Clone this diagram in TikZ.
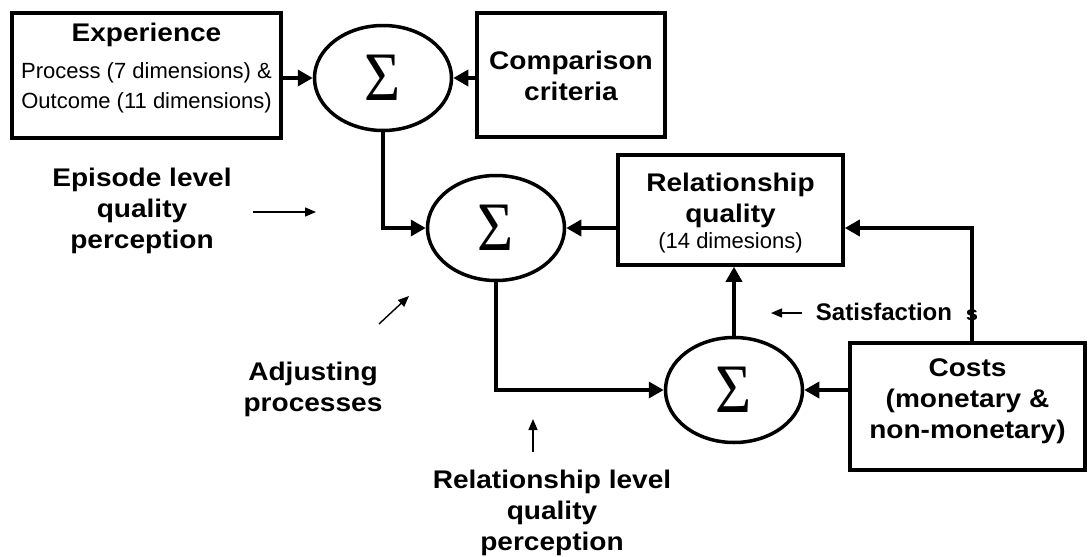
\documentclass[tikz,border=0pt]{standalone}
\usepackage{fontspec}
\setmainfont{Liberation Sans}
\newfontfamily\lblfont{Liberation Sans}[FakeStretch=1.1]
\newfontfamily\sigfont{Liberation Serif}
\usetikzlibrary{arrows.meta,shapes.geometric}
\tikzset{
  box/.style={draw, line width=3.5pt, rectangle, inner sep=0pt},
  sumnode/.style={draw, ellipse, line width=3.5pt, minimum width=137pt, minimum height=105pt, inner sep=0pt,
    font=\sigfont\fontsize{62}{62}\selectfont},
  flow/.style={line width=3.5pt, -{Triangle[length=15pt,width=16pt]}},
  thinarrow/.style={line width=1.4pt, -{Triangle[length=11pt,width=9pt]}},
  lbl/.style={font=\lblfont\fontsize{25.5}{31}\selectfont\bfseries, align=center, inner sep=0pt},
  reg/.style={font=\fontsize{22}{30}\selectfont, align=center, inner sep=0pt},
}
\newcommand{\sig}{\raisebox{-4pt}{\scalebox{1}[1.12]{Σ}}}
\begin{document}
\begin{tikzpicture}[x=1pt,y=-1pt]
\useasboundingbox (0,0) rectangle (1088,557);
% boxes
\node[box, minimum width=269pt, minimum height=125pt] (exp) at (146.5,75.5) {};
\node[box, minimum width=188pt, minimum height=124pt] (cmp) at (571,75) {};
\node[box, minimum width=225pt, minimum height=110pt] (rq) at (730.5,210) {};
\node[box, minimum width=235pt, minimum height=127pt] (cost) at (967.5,406.5) {};
% summation nodes
\node[sumnode] (s1) at (383,78) {\sig};
\node[sumnode] (s2) at (496,228) {\sig};
\node[sumnode] (s3) at (734,390) {\sig};
% box texts
\node[lbl] (expT) at (146.5,35) {Experience};
\node[reg] (expS) at (146.5,88) {Process (7 dimensions) \&\\Outcome (11 dimensions)};
\node[lbl] (cmpT) at (571,76) {Comparison\\criteria};
\node[lbl] (rqT) at (730.5,200) {Relationship\\quality};
\node[reg] (rqS) at (730.5,243) {(14 dimesions)};
\node[lbl] (costT) at (967.5,401) {Costs\\(monetary \&\\non-monetary)};
% free labels
\node[lbl] (epi) at (142,211) {Episode level\\quality\\perception};
\node[lbl] (adj) at (313,389) {Adjusting\\processes};
\node[lbl] (rel) at (552,513) {Relationship level\\quality\\perception};
\node[lbl, font=\fontsize{24}{24}\selectfont\bfseries] (sat) at (884,312) {Satisfaction};
\node[font=\lblfont\fontsize{20}{20}\selectfont\bfseries, inner sep=0pt] (sfx) at (972,315) {s};
% main connectors
\draw[flow] (exp.east |- s1.west) -- (s1.west);
\draw[flow] (cmp.west |- s1.east) -- (s1.east);
\draw[flow] (s1.south) |- (s2.west);
\draw[flow] (rq.west |- s2.east) -- (s2.east);
\draw[flow] (s2.south) |- (s3.west);
\draw[flow] (s3.north) -- (s3.north |- rq.south);
\draw[flow] (cost.west |- s3.east) -- (s3.east);
\coordinate (corner) at (972,228);
\draw[flow] (cost.north -| corner) -- (corner) -- (rq.east |- corner);
% thin pointer arrows
\coordinate (a1s) at (253,212); \coordinate (a1e) at (316,212);
\coordinate (a2s) at (379,324); \coordinate (a2e) at (409,296);
\coordinate (a3s) at (533,452); \coordinate (a3e) at (533,419);
\coordinate (a4s) at (802,313); \coordinate (a4e) at (771,313);
\draw[thinarrow] (a1s) -- (a1e);
\draw[thinarrow] (a2s) -- (a2e);
\draw[thinarrow] (a3s) -- (a3e);
\draw[thinarrow] (a4s) -- (a4e);
\end{tikzpicture}
\end{document}
